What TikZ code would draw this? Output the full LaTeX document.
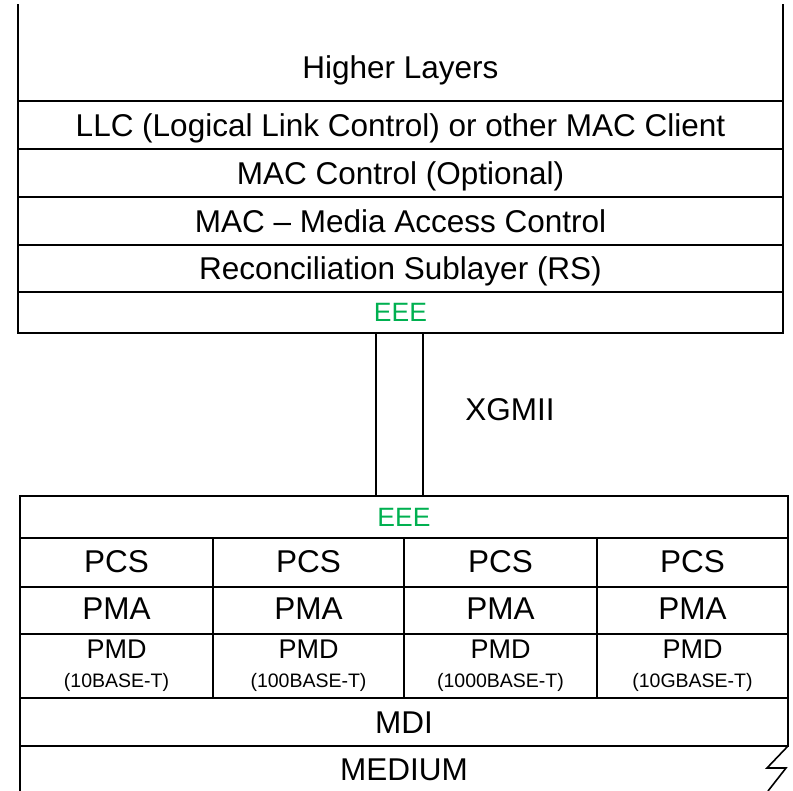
\documentclass[tikz,border=0pt]{standalone}
\usepackage{fontspec}
\setmainfont{Liberation Sans}
\usetikzlibrary{calc,positioning}

\definecolor{eeegreen}{RGB}{0,176,80}
\newcommand{\layerfont}{\fontsize{31.5}{36}\selectfont}
\newcommand{\eeefont}{\fontsize{26.5}{30}\selectfont}
\newcommand{\pmdfont}{\fontsize{27}{30}\selectfont}
\newcommand{\stdfont}{\fontsize{19.5}{22}\selectfont}

\begin{document}
\begin{tikzpicture}[x=1pt, y=-1pt, line width=1.6pt,
  label text/.style={inner sep=0pt, outer sep=0pt, text height=22.5pt, text depth=0pt, font=\layerfont},
  eee text/.style={text=eeegreen, text height=19pt, font=\eeefont},
  layer/.style={draw, label text, minimum width=765pt},
  cell/.style={draw, label text}]
\useasboundingbox (0,0) rectangle (793,791);

% Upper stack
\node[layer, minimum height=48pt] (llc) at (400.5,125) {LLC (Logical Link Control) or other MAC Client};
\node[layer, minimum height=48pt, below=0pt of llc] (macctl) {MAC Control (Optional)};
\node[layer, minimum height=48pt, below=0pt of macctl] (mac) {MAC -- Media Access Control};
\node[layer, minimum height=47pt, below=0pt of mac] (rs) {Reconciliation Sublayer (RS)};
\node[layer, minimum height=41pt, below=0pt of rs, eee text] (eeetop) {EEE};

% Higher layers, open at the top
\coordinate (top) at (400.5,4);
\node[label text] (higher) at (400.5,67) {Higher Layers};
\draw (llc.north west) -- (llc.north west |- top);
\draw (llc.north east) -- (llc.north east |- top);

% Lower stack
\node[layer, minimum width=768pt, minimum height=42pt, eee text] (eeebot) at (404,517) {EEE};
\foreach \i/\x/\w/\std in {1/20/193/10BASE-T, 2/213/191/100BASE-T, 3/404/193/1000BASE-T, 4/597/191/10GBASE-T} {
  \node[cell, minimum width=\w pt, minimum height=49pt, anchor=north west, text depth=3pt] (pcs\i) at (\x,538) {PCS};
  \node[cell, minimum width=\w pt, minimum height=47pt, below=0pt of pcs\i, text depth=4pt] (pma\i) {PMA};
  \node[cell, minimum width=\w pt, minimum height=64pt, below=0pt of pma\i, text height=, text depth=, align=center, font=\pmdfont] (pmd\i) {PMD\\[-1pt]{\stdfont(\std)}};
}
\node[layer, minimum width=768pt, minimum height=48pt, anchor=north west] (mdi) at (pmd1.south west) {MDI};

% Medium, open at the bottom with a break on the right
\coordinate (bottom) at (404,791);
\node[label text] (medium) at (404,769) {MEDIUM};
\draw (mdi.south west) -- (mdi.south west |- bottom);
\draw (mdi.south east) -- ++(-21,22) -- ++(19,0) -- ++(-18,23);

% XGMII
\draw ([xshift=-24.5pt]eeetop.south) -- ([xshift=-24.5pt]eeetop.south |- eeebot.north);
\draw ([xshift=22.5pt]eeetop.south) -- ([xshift=22.5pt]eeetop.south |- eeebot.north);
\node[label text] (xgmii) at (510,409) {XGMII};

\end{tikzpicture}
\end{document}
